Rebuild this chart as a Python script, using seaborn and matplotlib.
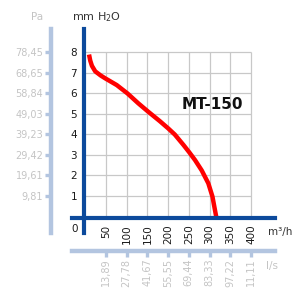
import matplotlib
matplotlib.use("Agg")
import matplotlib.pyplot as plt
import seaborn as sns

# ---- data ----
flow_m3h = [9, 12, 16, 24, 37, 48, 76, 102, 128, 152, 180, 200, 216, 237, 251,
            265, 281, 297, 307, 313, 316]
pressure_mm = [7.9, 7.6, 7.35, 7.08, 6.88, 6.74, 6.41, 6.0, 5.52, 5.11, 4.65, 4.3,
               4.0, 3.49, 3.13, 2.75, 2.25, 1.62, 0.97, 0.32, 0.0]

x_ticks = [50, 100, 150, 200, 250, 300, 350, 400]
y_ticks = [1, 2, 3, 4, 5, 6, 7, 8]
pa_labels = ["9,81", "19,61", "29,42", "39,23", "49,03", "58,84", "68,65", "78,45"]
ls_labels = ["13,89", "27,78", "41,67", "55,55", "69,44", "83,33", "97,22", "11,11"]
model_name = "MT-150"

# ---- style ----
sns.set_style("white")
plt.rcParams['font.family'] = ['DejaVu Sans']

DARK = "#0c4a9c"
LIGHT = "#b3c5e0"
GRID = "#c8c8c8"
GRAYTXT = "#c4c4c4"
W, H = 294, 290

fig = plt.figure(figsize=(W / 100, H / 100), dpi=100)
ax = fig.add_axes([72 / W, 57 / H, 203 / W, 204 / H])
ax.set_xlim(-32.1, 458)
ax.set_ylim(-0.805, 9.146)

# grid
ax.vlines(x_ticks, 0, max(y_ticks), color=GRID, lw=0.9, zorder=0)
ax.hlines(y_ticks, 0, max(x_ticks), color=GRID, lw=0.9, zorder=0)

# curve
sns.lineplot(x=flow_m3h, y=pressure_mm, ax=ax, color="#ff0000", lw=3.2,
             zorder=3, solid_capstyle="butt", solid_joinstyle="round")

# main axes spines
for s in ("top", "right"):
    ax.spines[s].set_visible(False)
ax.spines["left"].set_position(("data", -3.9))
ax.spines["bottom"].set_position(("data", -0.07))
for s in ("left", "bottom"):
    ax.spines[s].set_color(DARK)
    ax.spines[s].set_linewidth(3.0)
    ax.spines[s].set_zorder(4)

ax.set_xticks(x_ticks)
ax.set_xticklabels([str(v) for v in x_ticks], rotation=90)
ax.set_yticks(y_ticks)
ax.set_yticklabels([str(v) for v in y_ticks])
ax.tick_params(axis="both", direction="out", length=3.5, width=2.6, color=DARK,
               labelsize=7.5, labelcolor="#1a1a1a", pad=1.2)
ax.set_xlabel("")
ax.set_ylabel("")

# secondary Pa axis
sec_y = ax.secondary_yaxis(-0.1034, functions=(lambda h: h * 9.80665, lambda p: p / 9.80665))
sec_y.set_yticks([v * 9.80665 for v in y_ticks], labels=pa_labels)
for s in sec_y.spines.values():
    s.set_color(LIGHT)
    s.set_linewidth(3.2)
sec_y.tick_params(direction="out", length=4.3, width=2.4, color=LIGHT,
                  labelcolor=GRAYTXT, labelsize=7, pad=1.2)

# secondary l/s axis
sec_x = ax.secondary_xaxis(-0.0882, functions=(lambda q: q / 3.6, lambda l: l * 3.6))
sec_x.set_xticks([v / 3.6 for v in x_ticks], labels=ls_labels, rotation=90)
for s in sec_x.spines.values():
    s.set_color(LIGHT)
    s.set_linewidth(3.2)
sec_x.tick_params(direction="out", length=4.3, width=2.4, color=LIGHT,
                  labelcolor=GRAYTXT, labelsize=7, pad=1.2)

# texts
fig.text(37 / W, 1 - 17 / H, "Pa", color=GRAYTXT, ha="center", va="center", fontsize=7.5)
fig.text(97 / W, 1 - 17 / H, "mm H$_2$O", color="#333333", ha="center", va="center", fontsize=8)
fig.text(212 / W, 1 - 105 / H, model_name, color="#111111", ha="center", va="center",
         fontsize=11, fontweight="bold")
fig.text(280 / W, 1 - 232 / H, "m³/h", color="#333333", ha="center", va="center", fontsize=7.5)
fig.text(272 / W, 1 - 266 / H, "l/s", color=GRAYTXT, ha="center", va="center", fontsize=7.5)
fig.text(75 / W, 1 - 229 / H, "0", color="#1a1a1a", ha="center", va="center", fontsize=7.5)

fig.savefig("out.png", dpi=100)
